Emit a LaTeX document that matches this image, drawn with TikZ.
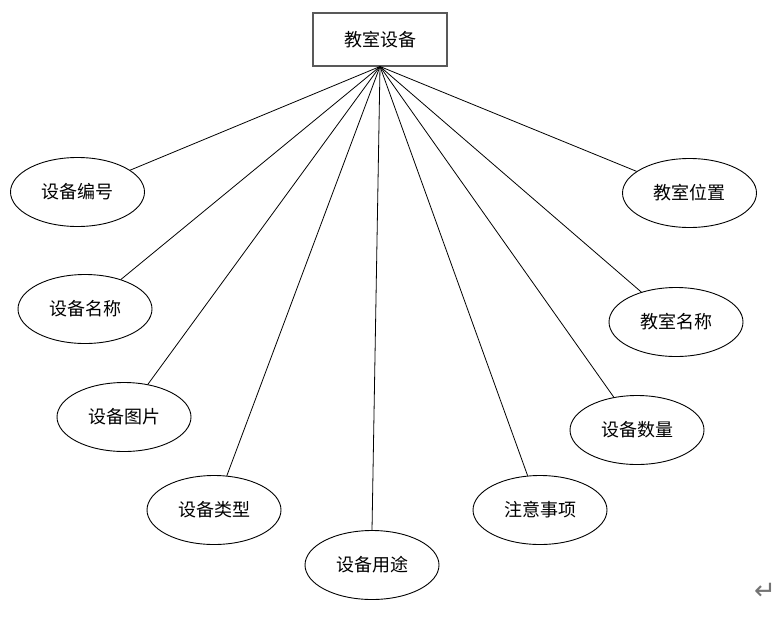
\documentclass[tikz,border=0pt]{standalone}
\usepackage{fontspec}
\newfontfamily\cjk{Noto Sans CJK SC}
\newfontfamily\dejavu{DejaVu Sans}
\usetikzlibrary{shapes.geometric}
\begin{document}
\begin{tikzpicture}[x=1pt,y=-1pt,
  attr/.style={draw, ellipse, minimum width=134pt, minimum height=69pt, inner sep=0pt, line width=0.9pt, font=\cjk\fontsize{18}{18}\selectfont},
  ent/.style={draw=black!65, rectangle, minimum width=134pt, minimum height=53pt, inner sep=0pt, line width=1.2pt, font=\cjk\fontsize{18}{18}\selectfont},
  link/.style={line width=0.8pt}]
\useasboundingbox (0,0) rectangle (783,624);
\node[ent] (top) at (380,39.5) {教室设备};
\coordinate (hub) at (380,66.5);
\node[attr] (a1) at (77.5,192) {设备编号};
\node[attr] (a2) at (85,309) {设备名称};
\node[attr] (a3) at (124,417) {设备图片};
\node[attr] (a4) at (214,510) {设备类型};
\node[attr] (a5) at (372,565) {设备用途};
\node[attr] (a6) at (540,510) {注意事项};
\node[attr] (a7) at (637,430) {设备数量};
\node[attr] (a8) at (676,322) {教室名称};
\node[attr] (a9) at (689.5,193) {教室位置};
\foreach \n in {a1,a2,a3,a4,a6,a7,a8,a9} {\draw[link] (hub) -- (\n);}
\draw[link] (hub) -- (a5.north);
\node[font=\dejavu\fontsize{26}{26}\selectfont, text=black!55, inner sep=0pt] (ret) at (765,591) {↵};
\end{tikzpicture}
\end{document}
